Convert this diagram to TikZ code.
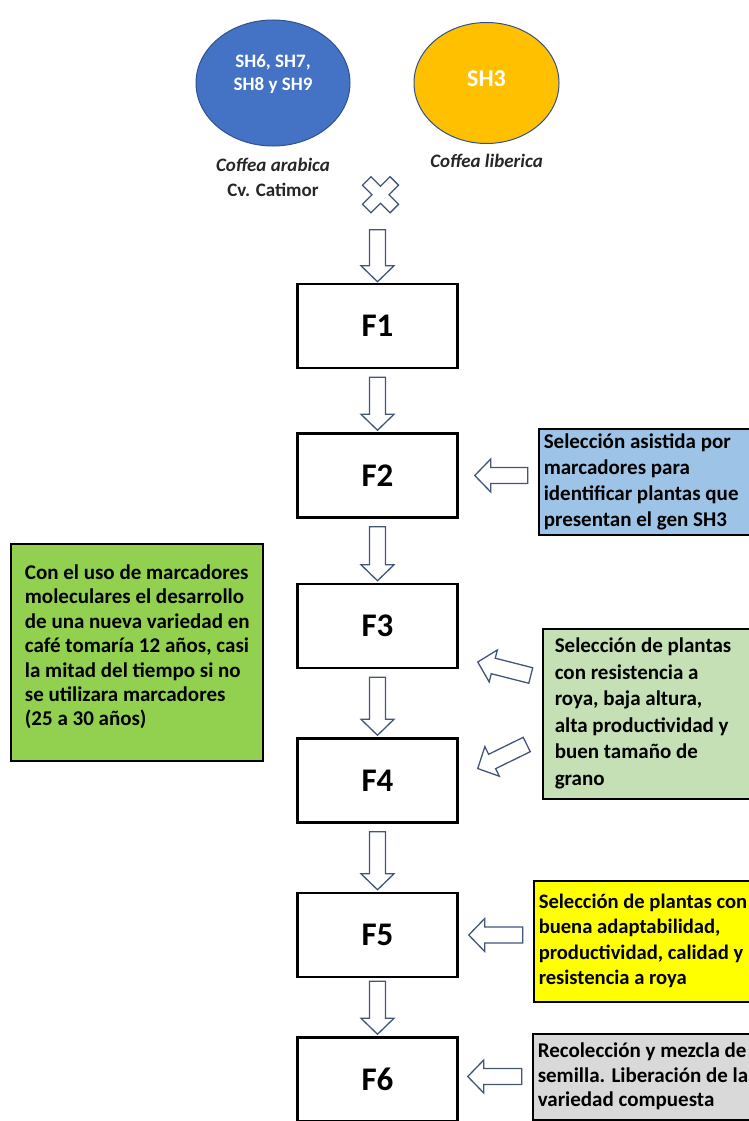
\documentclass[tikz,border=0pt]{standalone}
\usepackage{fontspec}
\setmainfont{Carlito}
\usepackage{xcolor}
\usepackage{tikz}
\usetikzlibrary{positioning, shapes.geometric, calc}

\definecolor{azulsh}{HTML}{4472C4}
\definecolor{ambar}{HTML}{FFC000}
\definecolor{bordeel}{HTML}{2F528F}
\definecolor{flechagris}{RGB}{66,86,120}
\definecolor{celeste}{HTML}{9DC3E6}
\definecolor{verdeclaro}{HTML}{C5E0B4}
\definecolor{verde}{HTML}{92D050}
\definecolor{amarillo}{HTML}{FFFF00}
\definecolor{grisclaro}{HTML}{D9D9D9}

% block arrow from #1 to #2
\newcommand{\flecha}[2]{%
  \draw[bloque] let \p1=#1, \p2=#2, \n1={atan2(\y2-\y1,\x2-\x1)}, \n2={veclen(\x2-\x1,\y2-\y1)} in
    [shift={(\p1)}, rotate=\n1]
    (0,-8) -- (\n2-16,-8) -- (\n2-16,-16.5) -- (\n2,0) -- (\n2-16,16.5) -- (\n2-16,8) -- (0,8) -- cycle;
}

\begin{document}
\begin{tikzpicture}[x=1pt, y=-1pt,
  fase/.style={draw, line width=2.5pt, minimum width=160pt, minimum height=84pt, font=\bfseries\fontsize{33}{38}\selectfont},
  nota/.style={draw, line width=2pt, align=flush left, font=\bfseries\fontsize{21}{26}\selectfont},
  padre/.style={ellipse, draw=bordeel, line width=1pt, text=white, align=center, font=\bfseries\fontsize{19}{23}\selectfont},
  especie/.style={align=center, text=black!85, font=\bfseries\fontsize{19}{25}\selectfont},
  bloque/.style={draw=flechagris, fill=white, line width=1.3pt, line join=miter}
]
  \useasboundingbox (0,0) rectangle (749,1121);
  \clip (0,0) rectangle (749,1121);

  % parents
  \node[padre, fill=azulsh, minimum width=154pt, minimum height=126pt, text depth=21pt] (arabica) at (273,83) {SH6, SH7,\\ SH8 y SH9};
  \node[padre, fill=ambar, minimum width=145pt, minimum height=121pt, right=63pt of arabica, text depth=8pt, font=\bfseries\fontsize{24}{28}\selectfont] (liberica) {SH3};
  \node[especie, below=8pt of arabica] (arabicalbl) {\textit{Coffea arabica}\\ Cv. Catimor};
  \node[especie, below=7pt of liberica] (libericalbl) {\textit{Coffea liberica}};

  % generations
  \node[fase] (f1) at (377.5,326) {F1};
  \node[fase, below=63pt of f1] (f2) {F2};
  \node[fase, below=64pt of f2] (f3) {F3};
  \node[fase, below=68pt of f3] (f4) {F4};
  \node[fase, below=68pt of f4] (f5) {F5};
  \node[fase, below=58pt of f5] (f6) {F6};

  % notes
  \node[nota, fill=celeste, text width=240pt, minimum height=106pt, inner xsep=5pt, right=79pt of f2, yshift=-6pt] (selmarc)
    {Selección asistida por\\ marcadores para\\ identificar plantas que\\ presentan el gen SH3};
  \node[nota, fill=verdeclaro, text width=240pt, minimum height=170pt, inner xsep=12pt, below=92pt of selmarc.south west, anchor=north west, xshift=4pt,
    font=\bfseries\fontsize{21}{26.5}\selectfont] (selroya)
    {Selección de plantas\\ con resistencia a\\ roya, baja altura,\\ alta productividad y\\ buen tamaño de\\ grano};
  \node[nota, fill=amarillo, text width=240pt, minimum height=121pt, inner xsep=5pt, below=80pt of selroya.south west, anchor=north west, xshift=-9pt,
    font=\bfseries\fontsize{20.6}{25.5}\selectfont] (selcalidad)
    {Selección de plantas con\\ buena adaptabilidad,\\ productividad, calidad y\\ resistencia a roya};
  \node[nota, fill=grisclaro, text width=240pt, minimum height=86pt, inner xsep=5pt, below=30pt of selcalidad.south west, anchor=north west, xshift=-1pt,
    font=\bfseries\fontsize{21}{24.5}\selectfont] (recoleccion)
    {Recolección y mezcla de\\ semilla. Liberación de la\\ variedad compuesta};
  \node[nota, fill=verde, minimum width=252pt, minimum height=217pt, text depth=14pt, left=32pt of f3.north west, anchor=north east, yshift=40pt,
    font=\bfseries\fontsize{21}{24.4}\selectfont] (tiempo)
    {Con el uso de marcadores\\ moleculares el desarrollo\\ de una nueva variedad en\\ café tomaría 12 años, casi\\ la mitad del tiempo si no\\ se utilizara marcadores\\ (25 a 30 años)};

  % cross
  \coordinate[above=88pt of f1.north, xshift=3pt] (cruce);
  \draw[bloque, shift={(cruce)}, rotate=45]
    (-6,-19.5) -- (6,-19.5) -- (6,-6) -- (19.5,-6) -- (19.5,6) -- (6,6) -- (6,19.5) -- (-6,19.5) -- (-6,6) -- (-19.5,6) -- (-19.5,-6) -- (-6,-6) -- cycle;

  % down arrows
  \coordinate[above=53pt of f1.north] (inicio);
  \flecha{(inicio)}{($(f1.north)+(0,-1)$)}
  \flecha{($(f1.south)+(0,8)$)}{($(f2.north)+(0,-2)$)}
  \flecha{($(f2.south)+(0,8)$)}{($(f3.north)+(0,-2)$)}
  \flecha{($(f3.south)+(0,8)$)}{($(f4.north)+(0,-2)$)}
  \flecha{($(f4.south)+(0,8)$)}{($(f5.north)+(0,-2)$)}
  \flecha{($(f5.south)+(0,3)$)}{($(f6.north)+(0,-2)$)}

  % side arrows
  \flecha{($(selmarc.west |- f2.east)+(-10,0)$)}{($(f2.east)+(16,0)$)}
  \flecha{($(selroya.west)+(-11,-38)$)}{($(f3.east)+(19,36)$)}
  \flecha{($(selroya.west)+(-15,31)$)}{($(f4.east)+(19,-12)$)}
  \flecha{($(selcalidad.west |- f5.east)+(-10,0)$)}{($(f5.east)+(10,0)$)}
  \flecha{($(recoleccion.west |- f6.east)+(-10,-3)$)}{($(f6.east)+(9,-3)$)}
\end{tikzpicture}
\end{document}
